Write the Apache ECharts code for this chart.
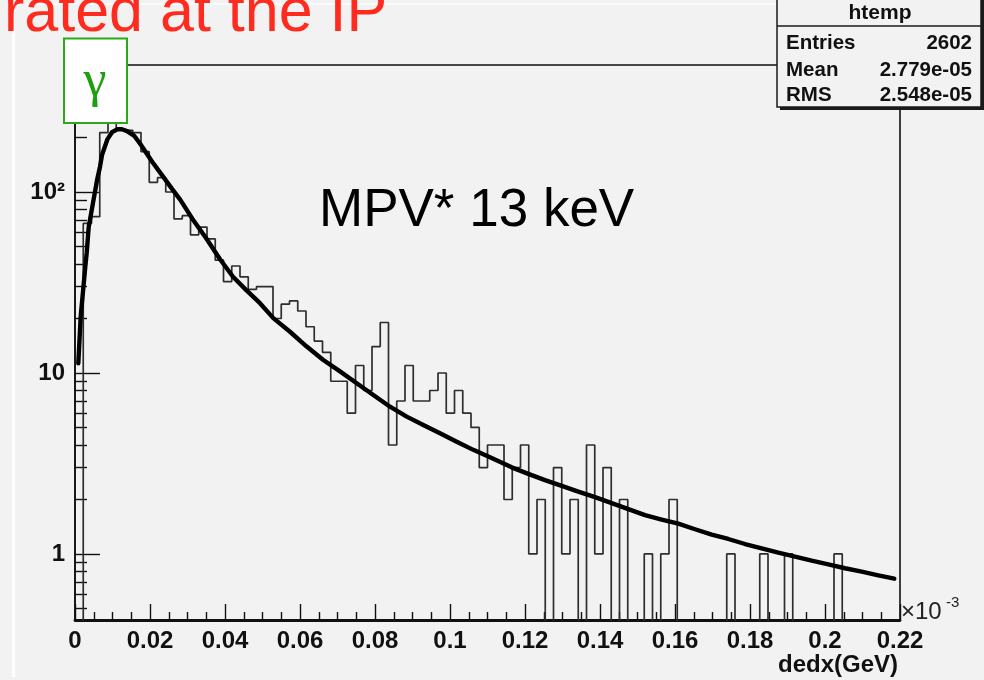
<!DOCTYPE html>
<html>
<head>
<meta charset="utf-8">
<script src="https://cdn.jsdelivr.net/npm/echarts@6/dist/echarts.min.js"></script>
<style>
  html, body { margin: 0; padding: 0; background: #f2f2f2; }
  #chart { width: 984px; height: 680px; }
</style>
</head>
<body>
<div id="chart"></div>
<script>
// Histogram "htemp": 100 bins of dedx from 0 to 0.22 (x 10^-3 GeV)
const binLow = 0;
const binWidth = 0.0022;
const counts = [
  0, 67, 73, 213, 245, 220, 219, 213, 167, 113,
  120, 100, 71, 74, 58, 64, 55, 42, 32, 39,
  34, 29, 30, 30, 20, 24, 25, 22, 18, 15,
  13, 9, 9, 6, 11, 8, 14, 19, 4, 7,
  11, 7, 7, 8, 10, 6, 8, 6, 5, 3,
  4, 4, 2, 3, 4, 1, 2, 0, 3, 1,
  2, 0, 4, 1, 3, 0, 2, 0, 0, 1,
  0, 1, 2, 0, 0, 0, 0, 0, 0, 1,
  0, 0, 0, 1, 0, 0, 1, 0, 0, 0,
  0, 0, 1, 0, 0, 0, 0, 0, 0, 0
];

// Fitted curve, sampled along dedx
const fitX = [
  0.00088, 0.00152, 0.00275, 0.00312, 0.00365, 0.0048, 0.00587, 0.00667, 0.0072, 0.00867,
  0.00987, 0.01133, 0.0125, 0.01387, 0.01573, 0.0176, 0.02067, 0.0232, 0.02587, 0.028,
  0.03133, 0.03512, 0.03867, 0.04213, 0.0456, 0.04933, 0.05288, 0.05733, 0.06179, 0.06621,
  0.07067, 0.07512, 0.07955, 0.084, 0.08845, 0.09288, 0.09733, 0.10179, 0.10621, 0.11067,
  0.11645, 0.12088, 0.12533, 0.12979, 0.13421, 0.13867, 0.14312, 0.14755, 0.152, 0.15645,
  0.16088, 0.16533, 0.16979, 0.17421, 0.17867, 0.18312, 0.18755, 0.192, 0.19645, 0.20088,
  0.20533, 0.20979, 0.21421, 0.21848
];
const fitY = [
  11.3, 20.5, 38.7, 46, 64, 87, 116, 138, 160, 196,
  214, 222, 222, 217, 205, 182, 146, 124, 104, 91,
  71, 55, 42.5, 34, 28.8, 24.3, 20.1, 16.9, 14.0, 11.8,
  10.2, 8.77, 7.55, 6.51, 5.74, 5.16, 4.64, 4.17, 3.76, 3.42,
  3.01, 2.77, 2.56, 2.38, 2.21, 2.06, 1.91, 1.77, 1.64, 1.55,
  1.47, 1.37, 1.28, 1.21, 1.135, 1.075, 1.016, 0.966, 0.918, 0.877,
  0.834, 0.798, 0.762, 0.730
];

// Axis ranges and tick labels
const xMin = 0, xMax = 0.22, xStep = 0.02;
const yMin = 0.4317, yMax = 503;
const yMajor = [1, 10, 100];
const yMajorLabels = ['1', '10', '10\u00b2'];
const yMinor = [0.5, 0.6, 0.7, 0.8, 0.9, 2, 3, 4, 5, 6, 7, 8, 9,
                20, 30, 40, 50, 60, 70, 80, 90, 200, 300, 400];

// Stats box contents
const statsTitle = 'htemp';
const statsNames = ['Entries', 'Mean', 'RMS'];
const statsValues = ['2602', '2.779e-05', '2.548e-05'];

// Step outline: each bin starts at its low edge; empty bins drop below the frame
const floorValue = 0.1;
const histData = counts.map((c, i) => [binLow + i * binWidth, c > 0 ? c : floorValue]);
histData.push([binLow + counts.length * binWidth, counts[counts.length - 1] > 0 ? counts[counts.length - 1] : floorValue]);
const fitData = fitX.map((x, i) => [x, fitY[i]]);

const sans = '"Liberation Sans", Arial, Helvetica, sans-serif';
const labelFont = { fontFamily: sans, fontWeight: 'bold', fontSize: 24, color: '#111' };

const chart = echarts.init(document.getElementById('chart'), null, { renderer: 'canvas' });

const statsElems = [];
// shadow + box
statsElems.push({ type: 'rect', shape: { x: 780, y: -4, width: 204, height: 114 }, style: { fill: '#1a1a1a' }, z: 100 });
statsElems.push({ type: 'rect', shape: { x: 777, y: -4, width: 204, height: 111 }, style: { fill: '#f2f2f2', stroke: '#1a1a1a', lineWidth: 1.5 }, z: 101 });
statsElems.push({ type: 'line', shape: { x1: 777, y1: 26, x2: 981, y2: 26 }, style: { stroke: '#1a1a1a', lineWidth: 1.5 }, z: 102 });
statsElems.push({ type: 'text', x: 880, y: 13, style: { text: statsTitle, align: 'center', verticalAlign: 'middle', font: 'bold 21px ' + sans, fill: '#111' }, z: 103 });
statsNames.forEach((n, i) => {
  const yy = [43, 70, 95][i];
  statsElems.push({ type: 'text', x: 786, y: yy, style: { text: n, align: 'left', verticalAlign: 'middle', font: 'bold 20.5px ' + sans, fill: '#111' }, z: 103 });
  statsElems.push({ type: 'text', x: 972, y: yy, style: { text: statsValues[i], align: 'right', verticalAlign: 'middle', font: 'bold 20.5px ' + sans, fill: '#111' }, z: 103 });
});

const option = {
  backgroundColor: '#f2f2f2',
  animation: false,
  grid: {
    left: 75, right: 84, top: 65, bottom: 60,
    show: true, borderColor: '#111', borderWidth: 1.6, backgroundColor: 'transparent'
  },
  xAxis: {
    type: 'value', min: xMin, max: xMax, interval: xStep,
    axisLine: { show: true, onZero: false, lineStyle: { color: '#111', width: 2.8 } },
    axisTick: { show: true, inside: true, length: 16, lineStyle: { color: '#111', width: 1.4 } },
    minorTick: { show: true, splitNumber: 4, length: 8, lineStyle: { color: '#111', width: 1.4 } },
    axisLabel: Object.assign({
      margin: 9,
      showMinLabel: true, showMaxLabel: true,
      formatter: v => String(parseFloat(v.toFixed(3)))
    }, labelFont),
    splitLine: { show: false }
  },
  yAxis: [
    {
      type: 'log', logBase: 10, min: yMin, max: yMax,
      axisLine: { show: true, lineStyle: { color: '#111', width: 1.6 } },
      axisTick: { show: true, inside: true, length: 25, customValues: yMajor, lineStyle: { color: '#111', width: 1.4 } },
      axisLabel: Object.assign({
        margin: 10,
        customValues: yMajor,
        formatter: v => yMajorLabels[yMajor.indexOf(Math.round(v))] || ''
      }, labelFont),
      splitLine: { show: false }
    },
    {
      type: 'log', logBase: 10, min: yMin, max: yMax, position: 'left',
      axisLine: { show: false },
      axisTick: { show: true, inside: true, length: 12, customValues: yMinor, lineStyle: { color: '#111', width: 1.4 } },
      axisLabel: { show: false },
      splitLine: { show: false }
    }
  ],
  series: [
    {
      name: 'htemp', type: 'line', step: 'end', data: histData,
      xAxisIndex: 0, yAxisIndex: 0,
      symbol: 'none', clip: true,
      lineStyle: { color: '#2e2e2e', width: 1.7 }, z: 2
    },
    {
      name: 'fit', type: 'line', data: fitData,
      xAxisIndex: 0, yAxisIndex: 0,
      symbol: 'none', clip: true, smooth: false,
      lineStyle: { color: '#000', width: 4.4, cap: 'round', join: 'round' }, z: 3
    }
  ],
  graphic: [
    // white edges of the slide
    { type: 'rect', shape: { x: 12, y: 3, width: 3, height: 674 }, style: { fill: '#ffffff' }, z: 50 },
    { type: 'rect', shape: { x: 12, y: 3, width: 766, height: 2 }, style: { fill: '#fbfbfb' }, z: 50 },
    // slide title fragment
    { type: 'text', x: 4, y: 14, style: { text: 'rated at the IP', align: 'left', verticalAlign: 'middle', font: '61px ' + sans, fill: '#ff2b1f' }, z: 60 },
    // photon label box
    { type: 'rect', shape: { x: 64, y: 38.5, width: 63, height: 84.5 }, style: { fill: '#ffffff', stroke: '#2ca81a', lineWidth: 2 }, z: 70 },
    { type: 'text', x: 95, y: 82, style: { text: '\u03b3', align: 'center', verticalAlign: 'middle', font: '52px "Liberation Serif", "DejaVu Serif", serif', fill: '#1f9e10' }, z: 71 },
    // annotation
    { type: 'text', x: 319, y: 211, style: { text: 'MPV* 13 keV', align: 'left', verticalAlign: 'middle', font: '53px ' + sans, fill: '#000' }, z: 60 },
    // axis exponent and title
    { type: 'text', x: 901, y: 612, style: { text: '\u00d710', align: 'left', verticalAlign: 'middle', font: '24px ' + sans, fill: '#222' }, z: 60 },
    { type: 'text', x: 946, y: 603, style: { text: '-3', align: 'left', verticalAlign: 'middle', font: '15px ' + sans, fill: '#222' }, z: 60 },
    { type: 'text', x: 898, y: 665, style: { text: 'dedx(GeV)', align: 'right', verticalAlign: 'middle', font: 'bold 24px ' + sans, fill: '#111' }, z: 60 }
  ].concat(statsElems)
};

chart.setOption(option);
</script>
</body>
</html>
